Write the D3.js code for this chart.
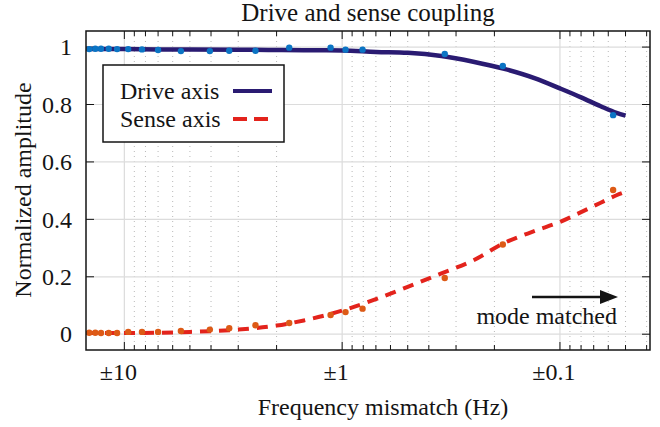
<!DOCTYPE html>
<html>
<head>
<meta charset="utf-8">
<script src="https://cdn.jsdelivr.net/npm/d3@7"></script>
<style>
  html, body { margin: 0; padding: 0; background: #fff; }
  svg { display: block; font-family: "Liberation Serif", "Times New Roman", "DejaVu Serif", serif; }
</style>
</head>
<body>
<svg id="chart" width="660" height="427"></svg>
<script>
// measured points (frequency mismatch, Hz)
const measFreq = [14.5, 13.6, 12.8, 11.8, 10.8, 9.6, 8.3, 7.0, 5.5, 4.05, 3.3, 2.5, 1.75, 1.13, 0.965, 0.806, 0.338, 0.183, 0.057];
const driveMeas = [0.993, 0.994, 0.994, 0.994, 0.993, 0.993, 0.992, 0.99, 0.986, 0.986, 0.987, 0.987, 0.998, 0.998, 0.991, 0.991, 0.976, 0.934, 0.763];
const senseMeas = [0.005, 0.005, 0.004, 0.004, 0.004, 0.008, 0.008, 0.008, 0.011, 0.016, 0.021, 0.031, 0.039, 0.067, 0.077, 0.089, 0.196, 0.3125, 0.502];

// fitted curves
const fitFreq = [15, 10, 7, 5, 3, 2, 1.5, 1, 0.7, 0.5, 0.35, 0.25, 0.18, 0.13, 0.1, 0.08, 0.065, 0.055, 0.05];
const driveFit = [0.993, 0.993, 0.992, 0.992, 0.991, 0.990, 0.989, 0.988, 0.983, 0.980, 0.969, 0.949, 0.924, 0.891, 0.856, 0.825, 0.794, 0.771, 0.761];
const senseFit = [0.004, 0.004, 0.005, 0.008, 0.016, 0.03, 0.048, 0.082, 0.122, 0.165, 0.212, 0.257, 0.318, 0.36, 0.391, 0.425, 0.458, 0.484, 0.496];

const xMajor = [10, 1, 0.1];
const xTickLabels = ["\u00b110", "\u00b11", "\u00b10.1"];
const yTicks = [0, 0.2, 0.4, 0.6, 0.8, 1];

const svg = d3.select("#chart");
const plotL = 86, plotR = 650, plotT = 31, plotB = 350;
const ink = "#141414";

const x = d3.scaleLog().domain([15, 0.0386]).range([plotL, plotR]);
const y = d3.scaleLinear().domain([-0.055, 1.056]).range([plotB, plotT]);

// minor ticks for the log axis
const minor = [];
[10, 1, 0.1, 0.01].forEach(dec => {
    for (let k = 2; k <= 9; k++) {
        const v = dec * k;
        const px = x(v);
        if (px > plotL + 0.5 && px < plotR - 0.5) minor.push(v);
    }
});

// grid
const grid = svg.append("g");
grid.selectAll("line.minor").data(minor).join("line")
    .attr("x1", d => x(d)).attr("x2", d => x(d))
    .attr("y1", plotT).attr("y2", plotB)
    .attr("stroke", "#b8b8b8").attr("stroke-width", 1)
    .attr("stroke-dasharray", "1,4");
grid.selectAll("line.major").data(xMajor).join("line")
    .attr("x1", d => x(d)).attr("x2", d => x(d))
    .attr("y1", plotT).attr("y2", plotB)
    .attr("stroke", "#dcdcdc").attr("stroke-width", 1.2);
grid.selectAll("line.h").data(yTicks).join("line")
    .attr("x1", plotL).attr("x2", plotR)
    .attr("y1", d => y(d)).attr("y2", d => y(d))
    .attr("stroke", "#dcdcdc").attr("stroke-width", 1.2);

// ticks (inward, mirrored)
const ticks = svg.append("g").attr("stroke", ink).attr("stroke-width", 1);
xMajor.forEach(v => {
    ticks.append("line").attr("x1", x(v)).attr("x2", x(v)).attr("y1", plotB).attr("y2", plotB - 8);
    ticks.append("line").attr("x1", x(v)).attr("x2", x(v)).attr("y1", plotT).attr("y2", plotT + 8);
});
minor.forEach(v => {
    ticks.append("line").attr("x1", x(v)).attr("x2", x(v)).attr("y1", plotB).attr("y2", plotB - 5);
    ticks.append("line").attr("x1", x(v)).attr("x2", x(v)).attr("y1", plotT).attr("y2", plotT + 5);
});
yTicks.forEach(v => {
    ticks.append("line").attr("x1", plotL).attr("x2", plotL + 8).attr("y1", y(v)).attr("y2", y(v));
    ticks.append("line").attr("x1", plotR).attr("x2", plotR - 8).attr("y1", y(v)).attr("y2", y(v));
});

// curves
const line = d3.line().curve(d3.curveMonotoneX);
svg.append("path")
    .attr("d", line(fitFreq.map((f, i) => [x(f), y(senseFit[i])])))
    .attr("fill", "none").attr("stroke", "#e3231c").attr("stroke-width", 4)
    .attr("stroke-dasharray", "11,8");
svg.append("path")
    .attr("d", line(fitFreq.map((f, i) => [x(f), y(driveFit[i])])))
    .attr("fill", "none").attr("stroke", "#2a1b72").attr("stroke-width", 4.5);

// measured points
svg.append("g").selectAll("circle").data(measFreq).join("circle")
    .attr("cx", d => x(d)).attr("cy", (d, i) => y(senseMeas[i]))
    .attr("r", 3.2).attr("fill", "#dd5a16");
svg.append("g").selectAll("circle").data(measFreq).join("circle")
    .attr("cx", d => x(d)).attr("cy", (d, i) => y(driveMeas[i]))
    .attr("r", 3.2).attr("fill", "#0b74c4");

// frame
svg.append("rect")
    .attr("x", plotL).attr("y", plotT).attr("width", plotR - plotL).attr("height", plotB - plotT)
    .attr("fill", "none").attr("stroke", ink).attr("stroke-width", 1.5);

// tick labels
svg.append("g").selectAll("text").data(xMajor).join("text")
    .attr("x", d => x(d) - 6).attr("y", 380)
    .attr("text-anchor", "middle").attr("font-size", 24).attr("fill", ink)
    .text((d, i) => xTickLabels[i]);
svg.append("g").selectAll("text").data(yTicks).join("text")
    .attr("x", 72).attr("y", d => y(d)).attr("dy", "0.34em")
    .attr("text-anchor", "end").attr("font-size", 24).attr("fill", ink)
    .text(d => d3.format("")(d));

// titles
svg.append("text").attr("x", 368).attr("y", 21).attr("text-anchor", "middle")
    .attr("font-size", 25).attr("fill", ink).text("Drive and sense coupling");
svg.append("text").attr("x", 383).attr("y", 415).attr("text-anchor", "middle")
    .attr("font-size", 24).attr("fill", ink).text("Frequency mismatch (Hz)");
svg.append("text").attr("transform", "translate(31,190) rotate(-90)").attr("text-anchor", "middle")
    .attr("font-size", 24).attr("fill", ink).text("Normalized amplitude");

// legend
const lg = svg.append("g");
lg.append("rect").attr("x", 103).attr("y", 65).attr("width", 181).attr("height", 77)
    .attr("fill", "#fff").attr("stroke", ink).attr("stroke-width", 1.5);
lg.append("text").attr("x", 120).attr("y", 99).attr("font-size", 24).attr("fill", ink).text("Drive axis");
lg.append("text").attr("x", 120).attr("y", 127).attr("font-size", 24).attr("fill", ink).text("Sense axis");
lg.append("line").attr("x1", 233).attr("x2", 272).attr("y1", 91).attr("y2", 91)
    .attr("stroke", "#2a1b72").attr("stroke-width", 4);
lg.append("line").attr("x1", 233).attr("x2", 272).attr("y1", 119).attr("y2", 119)
    .attr("stroke", "#e3231c").attr("stroke-width", 4).attr("stroke-dasharray", "14,7");

// annotation
svg.append("line").attr("x1", 532).attr("x2", 604).attr("y1", 297).attr("y2", 297)
    .attr("stroke", ink).attr("stroke-width", 2.5);
svg.append("path").attr("d", "M600,290 L618,297 L600,304 Z").attr("fill", ink);
svg.append("text").attr("x", 617).attr("y", 324).attr("text-anchor", "end")
    .attr("font-size", 24).attr("fill", ink).text("mode matched");
</script>
</body>
</html>
